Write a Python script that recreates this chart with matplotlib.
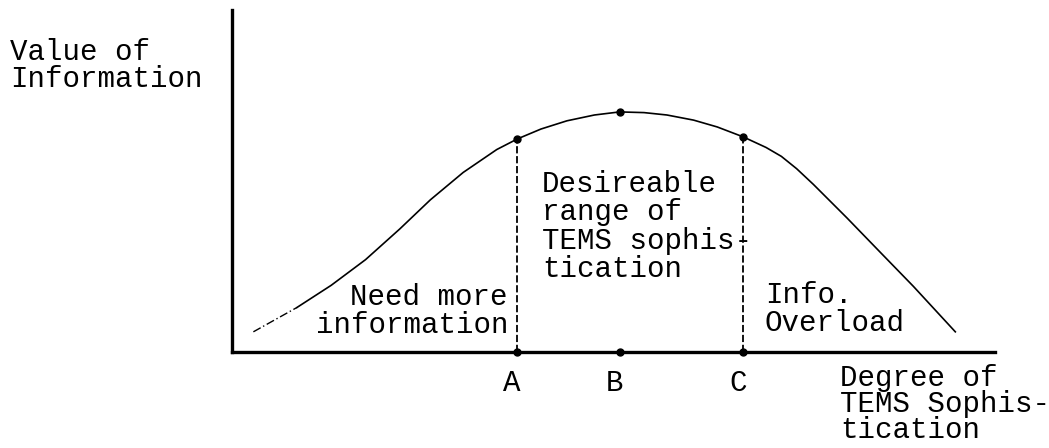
import numpy as np
import matplotlib
matplotlib.use("Agg")
import matplotlib.pyplot as plt

# curve (x: degree of sophistication, y: value of information)
curve_x = [0.28, 0.85, 1.30, 1.75, 2.20, 2.60, 3.03, 3.47, 3.74, 4.05, 4.39, 4.75, 5.08,
           5.40, 5.70, 6.05, 6.36, 6.70, 7.00, 7.20, 7.40, 7.62, 8.06, 8.49, 8.93, 9.48]
curve_y = [0.59, 1.30, 1.95, 2.70, 3.60, 4.45, 5.25, 5.92, 6.23, 6.52, 6.76, 6.93, 7.02,
           7.00, 6.93, 6.78, 6.58, 6.29, 5.98, 5.72, 5.36, 4.90, 3.92, 2.93, 1.92, 0.59]

marks = ["A", "B", "C"]
mark_x = [3.74, 5.08, 6.70]
mark_y = [6.23, 7.02, 6.29]

W, H = 1049, 448
fig = plt.figure(figsize=(W / 100, H / 100), dpi=100)
ax = fig.add_axes([232 / W, 96 / H, 763 / W, 342 / H])
ax.set_xlim(0, 10)
ax.set_ylim(0, 10)
for s in ["top", "right"]:
    ax.spines[s].set_visible(False)
for s in ["left", "bottom"]:
    ax.spines[s].set_linewidth(2.4)
    ax.spines[s].set_color("black")
ax.set_xticks([])
ax.set_yticks([])

# faint, broken start of the curve, then the solid part
ax.plot(curve_x[:2], curve_y[:2], color="black", lw=1.0, linestyle=(0, (6, 2, 1, 2)))
ax.plot(curve_x[1:], curve_y[1:], color="black", lw=1.2)

# dashed boundaries of the desirable range
for i in (0, 2):
    ax.plot([mark_x[i], mark_x[i]], [0, mark_y[i]], color="black", lw=1.3,
            linestyle=(0, (4, 1.5)))

ax.plot(mark_x, mark_y, "o", color="black", ms=5)
ax.plot(mark_x, [0, 0, 0], "o", color="black", ms=5, clip_on=False)

font = dict(family=["Liberation Mono", "DejaVu Sans Mono"], size=21, color="black")


def px(x, y, s, **kw):
    fig.text(x / W, 1 - y / H, s, **font, **kw)


px(10, 38, "Value of\nInformation", va="top", linespacing=0.95)
px(508, 333, "Need more\ninformation", ha="right", va="baseline", linespacing=1.0)
px(542, 170, "Desireable\nrange of\nTEMS sophis-\ntication", va="top", linespacing=1.02)
px(765, 331, "Info.\nOverload", va="baseline", linespacing=1.0)
px(840, 364, "Degree of\nTEMS Sophis-\ntication", va="top", linespacing=0.9)

for lab, x in zip(marks, mark_x):
    ax.annotate(lab, (x, 0), xytext=(-4, -12), textcoords="offset points",
                ha="center", va="top", **font)

fig.savefig("out.png", dpi=100)
